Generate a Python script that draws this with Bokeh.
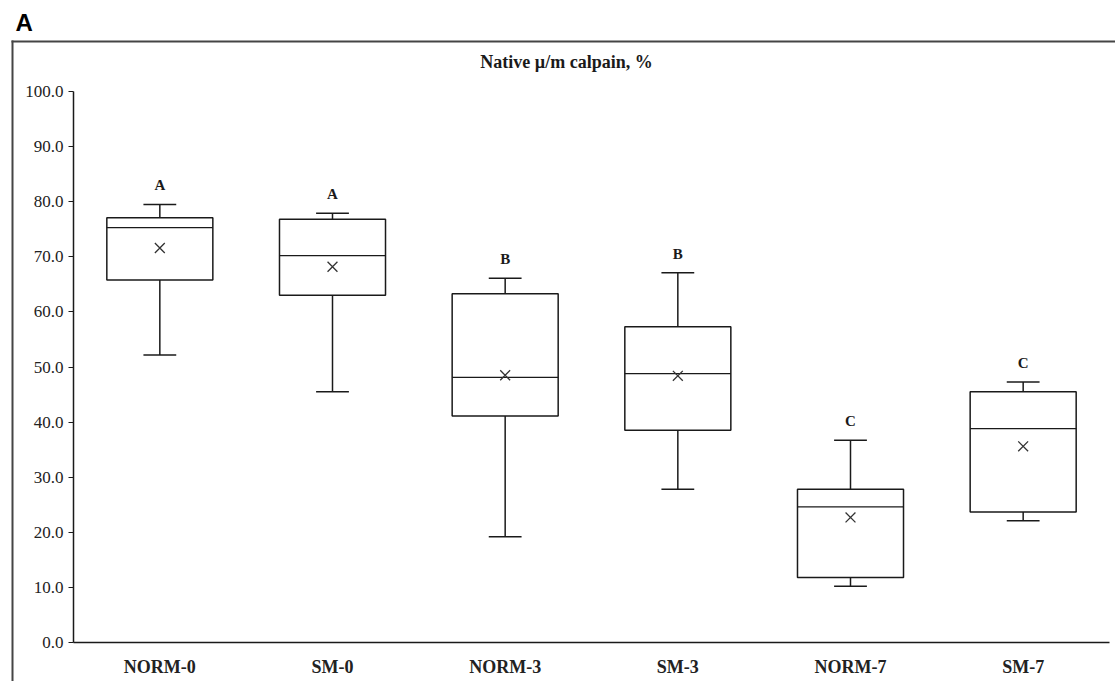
from bokeh.plotting import figure
from bokeh.models import (ColumnDataSource, Range1d, FixedTicker,
                          NumeralTickFormatter, Label, BoxAnnotation)
from bokeh.transform import dodge
from bokeh.core.properties import value
from bokeh.embed import file_html
from bokeh.resources import INLINE

# ---- data ----
groups = ["NORM-0", "SM-0", "NORM-3", "SM-3", "NORM-7", "SM-7"]
whisker_low = [52.2, 45.5, 19.2, 27.8, 10.2, 22.1]
q1 = [65.8, 63.0, 41.1, 38.5, 11.8, 23.7]
median = [75.3, 70.2, 48.1, 48.8, 24.6, 38.8]
q3 = [77.1, 76.8, 63.3, 57.3, 27.8, 45.5]
whisker_high = [79.5, 77.9, 66.1, 67.1, 36.7, 47.3]
mean = [71.6, 68.2, 48.5, 48.4, 22.7, 35.6]
letters = ["A", "A", "B", "B", "C", "C"]
y_ticks = [0, 10, 20, 30, 40, 50, 60, 70, 80, 90, 100]
chart_title = "Native \u00b5/m calpain, %"
panel_label = "A"

SERIF = "Liberation Serif"
INK = "#1a1a1a"
FRAME = "#454545"

# ---- layout geometry (pixels) ----
W, H = 1115, 681
AX_X0, AX_X1 = 73, 1109      # x-axis pixel extent
AX_Y0, AX_Y100 = 642, 91     # pixel rows of 0 and 100 on the y axis
n = len(groups)
ux = (AX_X1 - AX_X0) / n
uy = (AX_Y0 - AX_Y100) / 100.0

def px_x(px):
    return (px - AX_X0) / ux

def px_y(py):
    return (AX_Y0 - py) / uy

pos = [i + 0.5 for i in range(n)]

src = ColumnDataSource(dict(x=pos, lo=whisker_low, q1=q1, med=median, q3=q3,
                            hi=whisker_high, mean=mean, let=letters))

p = figure(width=W, height=H,
           x_range=Range1d(px_x(0), px_x(W)), y_range=Range1d(px_y(H), px_y(0)),
           output_backend="svg", toolbar_location=None, title=None,
           min_border=0, min_border_left=0, min_border_right=0,
           min_border_top=0, min_border_bottom=0)
p.outline_line_color = None
p.xgrid.grid_line_color = None
p.ygrid.grid_line_color = None
p.background_fill_color = "white"
p.border_fill_color = "white"

# panel frame (top and left edges)
p.add_layout(BoxAnnotation(left=px_x(11), right=px_x(W), top=px_y(40), bottom=px_y(42),
                           fill_color=FRAME, fill_alpha=1, line_color=None))
p.add_layout(BoxAnnotation(left=px_x(11), right=px_x(13), top=px_y(40), bottom=px_y(H),
                           fill_color=FRAME, fill_alpha=1, line_color=None))

# boxes
p.vbar(x="x", top="q3", bottom="q1", width=0.614, source=src,
       fill_color="white", line_color=INK, line_width=1.5)
# medians
p.segment(x0=dodge("x", -0.307), x1=dodge("x", 0.307),
          y0="med", y1="med", source=src, line_color=INK, line_width=1.3)
# whiskers
p.segment(x0="x", x1="x", y0="q3", y1="hi", source=src, line_color=INK, line_width=1.5)
p.segment(x0="x", x1="x", y0="q1", y1="lo", source=src, line_color=INK, line_width=1.5)
# caps
for col in ("hi", "lo"):
    p.segment(x0=dodge("x", -0.095), x1=dodge("x", 0.095),
              y0=col, y1=col, source=src, line_color=INK, line_width=1.5)
# means
p.scatter(x="x", y="mean", source=src, marker="x", size=14,
          line_color="#333333", line_width=1.3)
# significance letters
p.text(x="x", y="hi", text="let", source=src, text_font=value(SERIF),
       text_font_style="bold", text_font_size="15px", text_color=INK,
       text_align="center", text_baseline="middle", y_offset=-19)

# axes (placed at the data origin, inside the panel frame)
p.yaxis.fixed_location = 0
p.yaxis.bounds = (0, 100)
p.yaxis.ticker = FixedTicker(ticks=y_ticks)
p.yaxis.formatter = NumeralTickFormatter(format="0.0")
p.yaxis.minor_tick_line_color = None
p.yaxis.major_tick_out = 5
p.yaxis.major_tick_in = 0
p.yaxis.axis_line_color = INK
p.yaxis.axis_line_width = 1.5
p.yaxis.major_tick_line_color = INK
p.yaxis.major_tick_line_width = 1.2
p.yaxis.major_label_text_font = SERIF
p.yaxis.major_label_text_font_size = "17px"
p.yaxis.major_label_text_color = "#222222"
p.yaxis.major_label_standoff = 5

p.xaxis.fixed_location = 0
p.xaxis.bounds = (0, n)
p.xaxis.ticker = FixedTicker(ticks=pos)
p.xaxis.major_label_overrides = {x: g for x, g in zip(pos, groups)}
p.xaxis.major_tick_line_color = None
p.xaxis.minor_tick_line_color = None
p.xaxis.axis_line_color = INK
p.xaxis.axis_line_width = 1.5
p.xaxis.major_label_text_font = SERIF
p.xaxis.major_label_text_font_style = "bold"
p.xaxis.major_label_text_font_size = "18px"
p.xaxis.major_label_text_color = "#222222"
p.xaxis.major_label_standoff = 8

# chart title inside the panel frame
p.add_layout(Label(x=px_x(566), y=px_y(61), text=chart_title,
                   text_font=SERIF, text_font_style="bold", text_font_size="18px",
                   text_color=INK, text_align="center", text_baseline="middle"))
# panel letter
p.add_layout(Label(x=px_x(15), y=px_y(22), text=panel_label,
                   text_font="Liberation Sans", text_font_style="bold",
                   text_font_size="24px", text_color="black",
                   text_align="left", text_baseline="middle"))

open("out.html", "w").write(file_html(p, INLINE))
